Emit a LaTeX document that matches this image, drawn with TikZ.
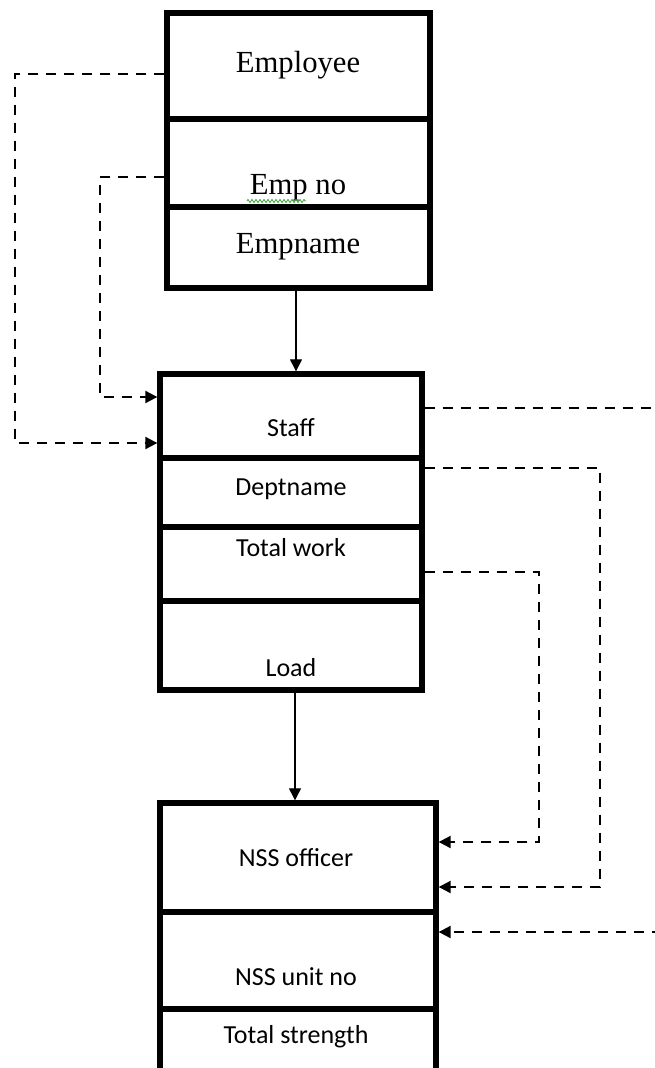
\documentclass[tikz,border=0pt]{standalone}
\usepackage{fontspec}
\setmainfont{Liberation Serif}
\newfontfamily\calib{Carlito}
\usetikzlibrary{arrows.meta,fit,decorations.pathmorphing}
\definecolor{squig}{RGB}{60,170,60}
\tikzset{
  sect/.style={draw, line width=4pt, inner sep=0pt, rectangle},
  serif/.style={font=\fontsize{23}{26}\selectfont},
  sans/.style={font=\calib\fontsize{19.5}{22}\selectfont},
  link/.style={line width=1.5pt, dash pattern=on 7.5pt off 6pt},
  tip/.style={-{Triangle[length=9pt,width=9pt]}},
  solidlink/.style={line width=0.8pt}
}
\begin{document}
\begin{tikzpicture}[x=0.75pt,y=-0.75pt]
\clip (0,0) rectangle (655,1068);
\useasboundingbox (0,0) rectangle (655,1068);
% Box 1
\node[sect, fit={(167,13)(430,119)}] (e1) {};
\node[sect, fit={(167,119)(430,207)}] (e2) {};
\node[sect, fit={(167,207)(430,288)}] (e3) {};
\node[serif] (te1) at (298,65) {Employee};
\node[serif] (te2) at (298,188) {Emp no};
\node[serif] (te3) at (298,247) {Empname};
\draw[squig, line width=0.6pt, decorate, decoration={zigzag, amplitude=1.2pt, segment length=3pt}] (247,201) -- (306,201);
% Box 2
\node[sect, fit={(160,374)(422,458)}] (s1) {};
\node[sect, fit={(160,458)(422,527)}] (s2) {};
\node[sect, fit={(160,527)(422,601)}] (s3) {};
\node[sect, fit={(160,601)(422,690)}] (s4) {};
\node[sans] (ts1) at (291,428) {Staff};
\node[sans] (ts2) at (291,489) {Deptname};
\node[sans] (ts3) at (291,548) {Total work};
\node[sans] (ts4) at (291,668) {Load};
% Box 3
\node[sect, fit={(160,803)(436,912)}] (n1) {};
\node[sect, fit={(160,912)(436,1009)}] (n2) {};
\node[sect, fit={(160,1009)(436,1130)}] (n3) {};
\node[sans] (tn1) at (296,858) {NSS officer};
\node[sans] (tn2) at (296,977) {NSS unit no};
\node[sans] (tn3) at (296,1037) {Total strength};
% coordinates for free ends
\coordinate (c1) at (662,408);
\coordinate (c2) at (662,932);
% solid arrows
\draw[solidlink, tip] (e3.south -| 296,0) -- (s1.north -| 296,0);
\draw[solidlink, tip] (s4.south -| 295,0) -- (n1.north -| 295,0);
% dashed connectors on the left
\draw[link, tip] (e1.west |- 0,74) -- (15,74) -- (15,443) -- (s1.west |- 0,443);
\draw[link, tip] (e2.west |- 0,177) -- (100,177) -- (100,397) -- (s1.west |- 0,397);
% dashed connectors on the right
\draw[link] (s1.east |- 0,408) -- (c1);
\draw[link, tip] (s2.east |- 0,468) -- (600,468) -- (600,887) -- (n1.east |- 0,887);
\draw[link, tip] (s3.east |- 0,572) -- (539,572) -- (539,842) -- (n1.east |- 0,842);
\draw[link, tip] (c2) -- (n2.east |- 0,932);
\end{tikzpicture}
\end{document}
